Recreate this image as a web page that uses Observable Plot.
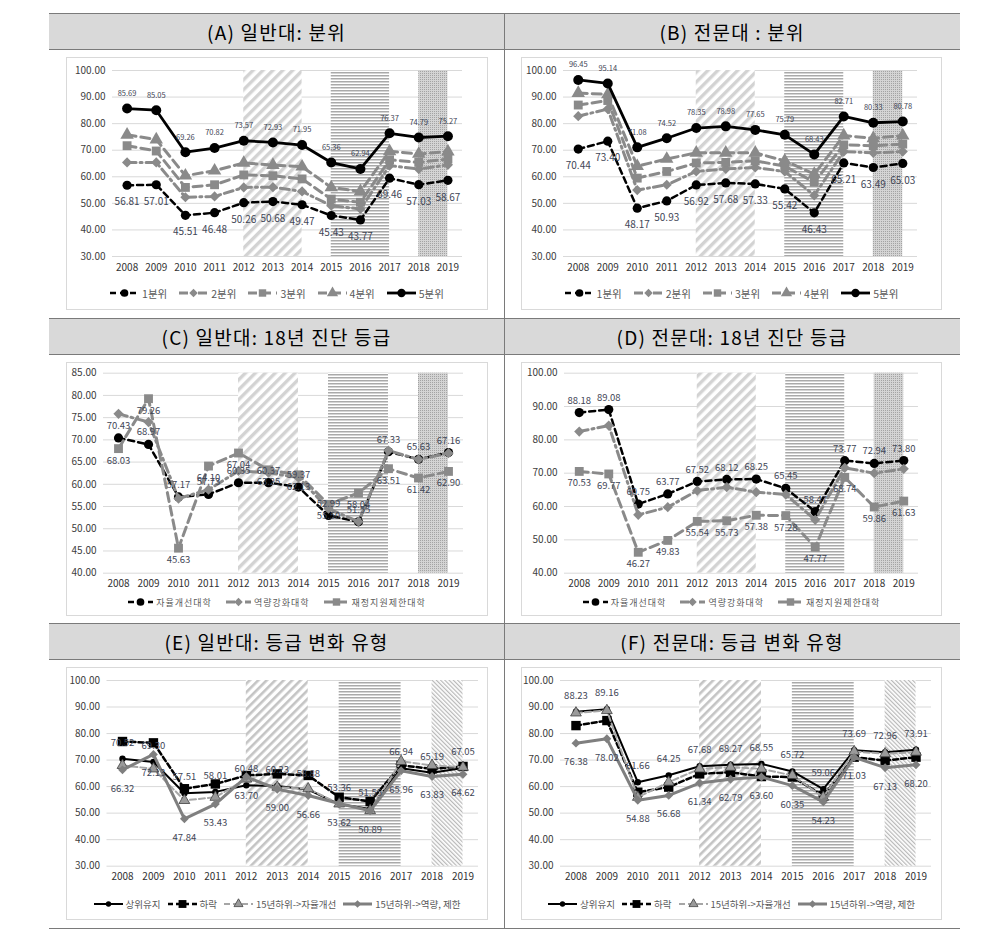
<!DOCTYPE html>
<html><head><meta charset="utf-8">
<script src="https://cdn.jsdelivr.net/npm/d3@7"></script>
<script src="https://cdn.jsdelivr.net/npm/@observablehq/plot@0.6"></script>
<style>
body{margin:0;background:#fff;width:997px;height:949px;position:relative;overflow:hidden;font-family:"Noto Sans CJK KR","Noto Sans",sans-serif;}
.hdr{position:absolute;background:#d9d9d9;display:flex;align-items:center;justify-content:center;font-size:19px;letter-spacing:1.2px;color:#000;}
.hline{position:absolute;left:49px;width:911px;height:0;border-top:1.5px solid #7a7a7a;}
.vline{position:absolute;left:504px;top:13px;height:915px;width:0;border-left:1.5px solid #7a7a7a;}
.frame{position:absolute;border:1px solid #d9d9d9;box-sizing:border-box;}
.legend{position:absolute;display:flex;justify-content:center;align-items:center;color:#595959;white-space:nowrap;}
.legend .it{display:flex;align-items:center;}
</style>
</head><body>
<svg width="0" height="0" style="position:absolute;left:0;top:0">
<defs>
<pattern id="pDiag" patternUnits="userSpaceOnUse" width="7" height="7" patternTransform="rotate(45)">
<rect width="7" height="7" fill="#fff"/><rect width="3.4" height="7" fill="#d3d3d3"/></pattern>
<pattern id="pDiagE" patternUnits="userSpaceOnUse" width="6" height="6" patternTransform="rotate(45)">
<rect width="6" height="6" fill="#fff"/><rect width="2.6" height="6" fill="#c4c4c4"/></pattern>
<pattern id="pHoriz" patternUnits="userSpaceOnUse" width="4" height="3">
<rect width="4" height="3" fill="#fff"/><rect width="4" height="1.5" fill="#a9a9a9"/></pattern>
<pattern id="pDots" patternUnits="userSpaceOnUse" width="2" height="2">
<rect width="2" height="2" fill="#d4d4d4"/><rect width="1" height="1" fill="#a3a3a3"/></pattern>
<pattern id="pBack" patternUnits="userSpaceOnUse" width="3" height="3" patternTransform="rotate(-45)">
<rect width="3" height="3" fill="#fff"/><rect width="1.2" height="3" fill="#b8b8b8"/></pattern>
</defs></svg>
<script>
const years = [2008,2009,2010,2011,2012,2013,2014,2015,2016,2017,2018,2019];

// (A) 일반대: 분위
const A_q1 = [56.81,57.01,45.51,46.48,50.26,50.68,49.47,45.43,43.77,59.46,57.03,58.67];
const A_q1_text = ["56.81","57.01","45.51","46.48","50.26","50.68","49.47","45.43","43.77","69.46","57.03","58.67"];
const A_q2 = [65.4,65.4,52.3,52.6,56.0,56.1,54.5,49.1,47.9,64.2,62.9,64.5];
const A_q3 = [71.7,69.7,56.0,57.0,60.7,60.4,59.2,51.6,50.4,66.4,65.4,66.7];
const A_q4 = [75.8,74.0,60.4,62.3,65.2,64.4,63.8,56.0,54.5,69.6,68.6,69.5];
const A_q5 = [85.69,85.05,69.26,70.82,73.57,72.93,71.95,65.36,62.94,76.37,74.79,75.27];

// (B) 전문대: 분위
const B_q1 = [70.44,73.40,48.17,50.93,56.92,57.68,57.33,55.42,46.43,65.21,63.49,65.03];
const B_q2 = [82.8,85.5,55.0,57.0,62.0,63.0,63.5,62.0,53.0,69.5,69.0,69.5];
const B_q3 = [87.0,88.7,59.5,62.0,65.2,65.4,66.0,64.0,58.0,72.0,71.7,72.3];
const B_q4 = [91.5,91.0,64.0,66.7,69.0,69.0,69.0,66.0,61.0,75.5,74.5,75.5];
const B_q5 = [96.45,95.14,71.08,74.52,78.35,78.98,77.65,75.79,68.43,82.71,80.33,80.78];

// (C) 일반대: 18년 진단 등급
const C_auto = [70.43,68.97,57.17,57.73,60.35,60.37,59.37,52.99,51.55,67.33,65.63,67.16];
const C_cap  = [75.85,74.0,56.8,58.8,63.0,62.6,61.5,54.5,51.6,67.6,65.6,67.0];
const C_lim  = [68.03,79.26,45.63,64.10,67.04,63.25,62.13,55.50,58.04,63.51,61.42,62.90];

// (D) 전문대: 18년 진단 등급
const D_auto = [88.18,89.08,60.75,63.77,67.52,68.12,68.25,65.45,58.47,73.77,72.94,73.80];
const D_cap  = [82.5,84.3,57.5,59.8,64.8,65.8,64.3,63.6,56.0,71.6,70.0,71.3];
const D_lim  = [70.53,69.77,46.27,49.83,55.54,55.73,57.38,57.28,47.77,68.74,59.86,61.63];

// (E) 일반대: 등급 변화 유형
const E_top     = [70.52,69.30,57.51,58.01,60.48,60.23,58.88,53.36,51.55,66.94,65.19,67.05];
const E_down    = [77.0,76.5,59.2,61.0,64.2,64.8,64.2,56.0,54.4,68.0,66.7,67.6];
const E_lowAuto = [68.0,66.7,54.8,56.0,62.9,59.8,59.2,53.5,51.0,69.5,68.0,67.3];
const E_lowCap  = [66.32,72.13,47.84,53.43,63.70,59.00,56.66,53.62,50.89,65.96,63.83,64.62];

// (F) 전문대: 등급 변화 유형
const F_top     = [88.23,89.16,61.66,64.25,67.68,68.27,68.55,65.72,59.06,73.69,72.96,73.91];
const F_down    = [83.0,84.9,57.9,59.8,64.8,65.4,63.8,63.6,56.6,71.1,69.8,71.1];
const F_lowAuto = [87.8,88.7,56.0,61.7,66.7,67.3,66.7,64.2,56.0,73.2,72.4,73.0];
const F_lowCap  = [76.38,78.02,54.88,56.68,61.34,62.79,63.60,60.35,54.23,71.03,67.13,68.20];

const titles = ["(A) 일반대: 분위","(B) 전문대 : 분위","(C) 일반대: 18년 진단 등급","(D) 전문대: 18년 진단 등급","(E) 일반대: 등급 변화 유형","(F) 전문대: 등급 변화 유형"];
const qNames = ["1분위","2분위","3분위","4분위","5분위"];
const gNames = ["자율개선대학","역량강화대학","재정지원제한대학"];
const tNames = ["상위유지","하락","15년하위->자율개선","15년하위->역량, 제한"];

const FONT = '"Noto Sans CJK KR","Noto Sans",sans-serif';
const LBL = "#3f4656";
const BLK = "#000000", GRY = "#8a8a8a";
const idx = d3.range(12);
const fmt = v => v.toFixed(2);

// table layout
const body = document.body;
function div(cls, st, txt){const d=document.createElement("div");d.className=cls;Object.assign(d.style,st);if(txt)d.textContent=txt;body.appendChild(d);return d;}
const hdrRows = [13,318,623];
hdrRows.forEach((y,r)=>{
  div("hdr",{left:"49px",top:y+"px",width:"455px",height:"36px"},titles[r*2]);
  div("hdr",{left:"504px",top:y+"px",width:"456px",height:"36px"},titles[r*2+1]);
});
[13,49,318,354,623,659,928].forEach(y=>div("hline",{top:(y-0.5)+"px"}));
div("vline",{});

const symMap = {circle:d3.symbolCircle, square:d3.symbolSquare, diamond2:d3.symbolDiamond2, triangle:d3.symbolTriangle};

function panel(cfg){
  const {fx,fy,fw,fh,px0,px1,py0,py1,ymin,ymax,step,shades,series,legendY,legendFont,legendGap,legendLS,lineW} = cfg;
  div("frame",{left:fx+"px",top:fy+"px",width:fw+"px",height:fh+"px"});
  const mb = 28;
  const ticks = d3.range(ymin, ymax + step/2, step);
  const marks = [Plot.gridY(ticks,{stroke:"#d9d9d9",strokeOpacity:1,strokeWidth:1})];
  for (const s of shades) marks.push(Plot.rect([s],{x1:"a",x2:"b",y1:()=>ymin,y2:()=>ymax,fill:`url(#${s.pat})`}));
  marks.push(Plot.axisY(ticks,{tickSize:0,tickPadding:7,tickFormat:fmt,fontSize:10,fill:"#404040"}));
  marks.push(Plot.axisX(idx,{tickSize:0,tickPadding:7,tickFormat:i=>String(years[i]),fontSize:10,fill:"#333333"}));
  for (const s of series){
    marks.push(Plot.line(idx,{x:i=>i,y:i=>s.vals[i],stroke:s.stroke,strokeWidth:s.sw,strokeDasharray:s.dash||null,strokeLinejoin:"round"}));
    marks.push(Plot.dot(idx,{x:i=>i,y:i=>s.vals[i],symbol:s.symbol,r:s.r,fill:s.fill,stroke:s.mstroke||"none",strokeWidth:0.8}));
  }
  for (const s of series){
    if (!s.label) continue;
    const txt = s.text || s.vals.map(fmt);
    marks.push(Plot.text(idx,{x:i=>i,y:i=>s.vals[i],text:i=>txt[i],dy:s.label.dy,fontSize:s.label.size,fill:LBL}));
  }
  const chart = Plot.plot({
    width:fw, height:(py1-fy)+mb,
    marginLeft:px0-fx, marginRight:fx+fw-px1, marginTop:py0-fy, marginBottom:mb,
    style:{fontFamily:FONT,background:"transparent",overflow:"visible"},
    x:{domain:[-0.5,11.5],axis:null},
    y:{domain:[ymin,ymax],axis:null},
    marks
  });
  chart.style.position="absolute"; chart.style.left=fx+"px"; chart.style.top=fy+"px";
  body.appendChild(chart);
  // legend
  const lg = div("legend",{left:fx+"px",top:(legendY-8)+"px",width:fw+"px",height:"16px",fontSize:legendFont+"px",gap:legendGap+"px",letterSpacing:(legendLS||0)+"px"});
  for (const s of series){
    const it = document.createElement("div"); it.className="it";
    const lw = lineW;
    const svg = d3.create("svg").attr("width",lw).attr("height",14).style("margin-right","3px");
    svg.append("line").attr("x1",0).attr("x2",lw).attr("y1",7).attr("y2",7).attr("stroke",s.stroke).attr("stroke-width",s.sw).attr("stroke-dasharray",s.dash||null);
    svg.append("path").attr("transform",`translate(${lw/2},7)`).attr("d",d3.symbol(symMap[s.symbol],Math.PI*s.r*s.r*0.7)()).attr("fill",s.fill).attr("stroke",s.mstroke||"none").attr("stroke-width",0.8);
    it.appendChild(svg.node());
    const sp = document.createElement("span"); sp.textContent = s.name; it.appendChild(sp);
    lg.appendChild(it);
  }
}

const shadesA = [{a:4,b:6,pat:"pDiag"},{a:7,b:9,pat:"pHoriz"},{a:10,b:11,pat:"pDots"}];
const shadesE = [{a:4,b:6,pat:"pDiagE"},{a:7,b:9,pat:"pHoriz"},{a:10,b:11,pat:"pBack"}];

function qSeries(q1,q1t,q2,q3,q4,q5){
  return [
    {name:qNames[0],vals:q1,text:q1t,stroke:BLK,sw:2.5,dash:"6,4",symbol:"circle",r:4.6,fill:BLK,label:{dy:17,size:10}},
    {name:qNames[1],vals:q2,stroke:GRY,sw:3,dash:"9,4,2,4",symbol:"diamond2",r:4.6,fill:GRY},
    {name:qNames[2],vals:q3,stroke:GRY,sw:3,dash:"9,5",symbol:"square",r:5,fill:GRY},
    {name:qNames[3],vals:q4,stroke:GRY,sw:3,dash:"9,5",symbol:"triangle",r:5,fill:GRY},
    {name:qNames[4],vals:q5,stroke:BLK,sw:2.8,symbol:"circle",r:5,fill:BLK,label:{dy:-15,size:7.5}}
  ];
}
function gSeries(a,c,l){
  return [
    {name:gNames[0],vals:a,stroke:BLK,sw:2.5,dash:"6,4",symbol:"circle",r:4.6,fill:BLK,label:{dy:-12,size:9.5}},
    {name:gNames[1],vals:c,stroke:GRY,sw:3,dash:"9,4,2,4",symbol:"diamond2",r:4.6,fill:GRY},
    {name:gNames[2],vals:l,stroke:GRY,sw:3,dash:"9,5",symbol:"square",r:5,fill:GRY,label:{dy:12,size:9.5}}
  ];
}
function tSeries(t,d,la,lc){
  return [
    {name:tNames[0],vals:t,stroke:BLK,sw:2,symbol:"circle",r:3.2,fill:BLK,label:{dy:-16,size:9.5}},
    {name:tNames[1],vals:d,stroke:BLK,sw:2.5,dash:"5,3",symbol:"square",r:5.3,fill:BLK},
    {name:tNames[2],vals:la,stroke:"#a6a6a6",sw:2,dash:"6,3",symbol:"triangle",r:4,fill:"#9a9a9a",mstroke:"#404040"},
    {name:tNames[3],vals:lc,stroke:"#7f7f7f",sw:3,symbol:"diamond2",r:4,fill:"#7f7f7f",label:{dy:19,size:9.5}}
  ];
}

panel({fx:66,fy:57,fw:422,fh:253,px0:112,px1:462,py0:70,py1:256,ymin:30,ymax:100,step:10,shades:shadesA,
  series:qSeries(A_q1,A_q1_text,A_q2,A_q3,A_q4,A_q5),legendY:293,legendFont:10.5,legendGap:12,lineW:29});
panel({fx:521,fy:57,fw:421,fh:253,px0:563,px1:917,py0:70,py1:256,ymin:30,ymax:100,step:10,shades:shadesA,
  series:qSeries(B_q1,null,B_q2,B_q3,B_q4,B_q5),legendY:293,legendFont:10.5,legendGap:12,lineW:29});
panel({fx:66,fy:362,fw:422,fh:254,px0:103,px1:463,py0:372.7,py1:572.7,ymin:40,ymax:85,step:5,shades:shadesA,
  series:gSeries(C_auto,C_cap,C_lim),legendY:602,legendFont:9,legendGap:14,legendLS:1,lineW:25});
panel({fx:521,fy:362,fw:421,fh:254,px0:564,px1:918,py0:372.7,py1:572.7,ymin:40,ymax:100,step:10,shades:shadesA,
  series:gSeries(D_auto,D_cap,D_lim),legendY:602,legendFont:9,legendGap:14,legendLS:1,lineW:25});
panel({fx:66,fy:667,fw:422,fh:253,px0:106.5,px1:478,py0:680,py1:865.7,ymin:30,ymax:100,step:10,shades:shadesE,
  series:tSeries(E_top,E_down,E_lowAuto,E_lowCap),legendY:904,legendFont:9.5,legendGap:7,lineW:29});
panel({fx:521,fy:667,fw:421,fh:253,px0:560,px1:931,py0:680,py1:865.7,ymin:30,ymax:100,step:10,shades:shadesE,
  series:tSeries(F_top,F_down,F_lowAuto,F_lowCap),legendY:904,legendFont:9.5,legendGap:7,lineW:29});
</script>
</body></html>
